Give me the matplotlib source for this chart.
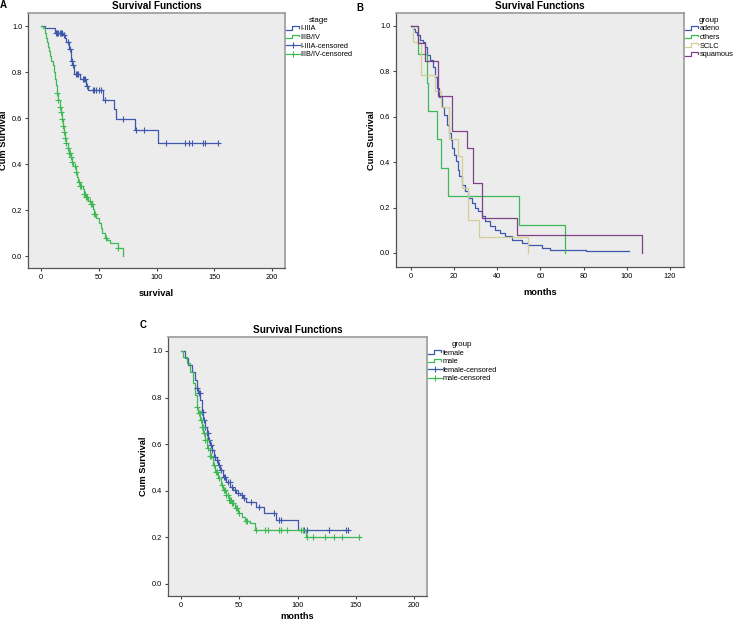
import numpy as np
import matplotlib
matplotlib.use('Agg')
import matplotlib.pyplot as plt
from matplotlib.lines import Line2D
from matplotlib.legend_handler import HandlerBase

plt.rcParams['font.family'] = ['Liberation Sans', 'DejaVu Sans']

# ---- data (time, survival after each event) ----
# A: stage
a_early_t = [3, 12, 19, 21, 22, 24, 26, 27, 28.5, 34, 39, 41, 54, 63, 64.5, 81, 101]
a_early_s = [0.99, 0.97, 0.96, 0.95, 0.93, 0.90, 0.85, 0.83, 0.79, 0.77, 0.74, 0.72,
             0.68, 0.64, 0.595, 0.55, 0.49]
a_early_end = 153
a_early_cens = [13, 14, 15, 16, 17, 18, 20, 23, 25, 26.5, 27.5, 30, 31, 32, 36, 37, 38, 40,
                45, 46, 48, 50, 52, 55, 71, 82, 89, 108, 125, 128, 131, 140, 142, 153]

a_late_t = [2, 3, 4, 5, 6, 7, 8, 9, 10, 11, 12, 13, 14, 15, 16, 17, 18, 19, 20, 21, 22, 23,
            24, 26, 27, 28, 30, 31, 32, 34, 36, 37, 39, 41, 43, 45, 46, 48, 50, 52, 53, 55,
            57, 60, 67, 71]
a_late_s = [0.99, 0.97, 0.95, 0.93, 0.91, 0.89, 0.87, 0.85, 0.83, 0.80, 0.77, 0.745, 0.71,
            0.68, 0.65, 0.625, 0.595, 0.565, 0.54, 0.515, 0.49, 0.47, 0.45, 0.43, 0.41, 0.39,
            0.365, 0.345, 0.32, 0.305, 0.29, 0.27, 0.255, 0.24, 0.225, 0.205, 0.185, 0.165,
            0.145, 0.12, 0.10, 0.08, 0.07, 0.055, 0.035, 0.0]
a_late_end = 71
a_late_cens = [14, 15, 16, 17, 18, 19, 20, 21, 22, 23, 24, 25, 26, 27, 29, 30, 33, 34, 35,
               37, 38, 39, 40, 42, 43, 44, 46, 47, 56, 67]

# B: histology group
b_adeno_t = [1, 2, 3, 4, 5.5, 6.5, 7.3, 8.8, 10.3, 11.1, 11.9, 13, 14.2, 15.4, 16.5, 17.6,
             18.4, 19.2, 20.1, 20.8, 21.6, 22.4, 23.5, 25, 26.6, 28.1, 29.7, 31.2, 32.7,
             34.3, 36.6, 38.9, 41.2, 43.6, 46.6, 51.3, 54.4, 60.5, 64.4, 81]
b_adeno_s = [0.988, 0.974, 0.959, 0.937, 0.93, 0.908, 0.871, 0.849, 0.82, 0.776, 0.725,
             0.688, 0.644, 0.608, 0.564, 0.527, 0.498, 0.461, 0.432, 0.403, 0.366, 0.337,
             0.30, 0.271, 0.242, 0.22, 0.198, 0.183, 0.161, 0.139, 0.117, 0.103, 0.088,
             0.073, 0.059, 0.044, 0.037, 0.022, 0.015, 0.007]
b_adeno_end = 101
b_others_t = [3.1, 7.3, 8, 12.2, 13.9, 17, 50, 71.4]
b_others_s = [0.875, 0.75, 0.625, 0.5, 0.375, 0.25, 0.125, 0.0]
b_sclc_t = [1, 4.6, 11.1, 13.9, 17.8, 21.9, 23.5, 26.4, 31.7, 54]
b_sclc_s = [0.929, 0.786, 0.714, 0.643, 0.5, 0.429, 0.286, 0.143, 0.071, 0.0]
b_squam_t = [3.1, 6.5, 12.4, 18.8, 26.1, 28.8, 33.1, 49.3, 107.2]
b_squam_s = [0.923, 0.846, 0.692, 0.538, 0.462, 0.308, 0.154, 0.077, 0.0]

# C: sex
c_fem_t = [3.4, 6.3, 9.2, 12, 13.4, 14.9, 16.3, 17.7, 19.2, 20.6, 22, 23.4, 24.9, 26.3, 28.3,
           30.6, 32, 33.5, 35.8, 38.6, 42.1, 44.9, 47.2, 50.6, 53.5, 55.8, 64.4, 71.2, 81.5,
           100.1]
c_fem_s = [0.969, 0.94, 0.911, 0.876, 0.84, 0.818, 0.79, 0.74, 0.704, 0.675, 0.647, 0.618,
           0.597, 0.575, 0.546, 0.532, 0.51, 0.489, 0.46, 0.439, 0.418, 0.403, 0.392, 0.382,
           0.368, 0.35, 0.329, 0.303, 0.275, 0.232]
c_fem_end = 143.5
c_fem_cens = [14, 15, 16, 18, 19, 20, 21, 22, 23, 24, 26, 27, 29, 31, 33, 34, 37, 38, 40, 42,
              44, 46, 49, 52, 54, 60, 67, 80, 84, 86, 106, 108, 127, 142, 143]
c_male_t = [2, 4.9, 7.7, 10, 12, 13.4, 14.9, 16.3, 17.7, 19.2, 20.6, 22.6, 24.9, 27.2, 29.5,
            32, 34, 36.3, 38.6, 40.9, 43.5, 46.4, 49.2, 52.1, 54.9, 59.2, 63.5, 107]
c_male_s = [0.976, 0.947, 0.911, 0.861, 0.811, 0.761, 0.732, 0.704, 0.675, 0.647, 0.618,
            0.582, 0.547, 0.511, 0.482, 0.453, 0.425, 0.403, 0.382, 0.361, 0.346, 0.325,
            0.303, 0.286, 0.268, 0.26, 0.232, 0.2]
c_male_end = 153.6
c_male_cens = [14, 15, 16, 17, 18, 19, 20, 21, 22, 23, 25, 26, 28, 30, 31, 33, 35, 37, 38, 39,
               40, 41, 42, 43, 44, 45, 47, 48, 50, 56, 57, 64, 72, 75, 84, 86, 91, 103, 105,
               108, 113, 124, 131, 138, 153]

BLUE = '#3E58AC'
GREEN = '#3DBA55'
BEIGE = '#D3CE97'
PURPLE = '#80418A'


def km_line(ax, t, s, end, color):
    x = np.r_[0, t, end]
    y = np.r_[1.0, s, s[-1]]
    ln, = ax.plot(x, y, drawstyle='steps-post', color=color, lw=0.9)
    return ln


def km_cens(ax, t, s, cens, color):
    t = np.asarray(t)
    s = np.asarray(s)
    idx = np.searchsorted(t, cens, side='right') - 1
    y = np.where(idx >= 0, s[np.clip(idx, 0, None)], 1.0)
    ax.plot(cens, y, ls='none', marker='+', ms=5, mew=0.8, color=color)
    return Line2D([], [], color=color, lw=0.9, marker='|', ms=5, mew=0.8)


class StepIcon(HandlerBase):
    def create_artists(self, legend, orig, xd, yd, w, h, fs, trans):
        xs = -xd + np.array([0, .45, .45, .95, .95]) * w
        ys = -yd + np.array([.15, .15, .85, .85, .5]) * h
        ln = Line2D(xs, ys, color=orig.get_color(), lw=0.9)
        ln.set_transform(trans)
        return [ln]


def style(ax, xt, xlim, ylim, xlabel, xpad=6):
    ax.set_facecolor('#ECECEC')
    ax.set_xlim(*xlim)
    ax.set_ylim(*ylim)
    ax.set_xticks(xt)
    ax.set_yticks([0, 0.2, 0.4, 0.6, 0.8, 1.0])
    ax.set_yticklabels(['0.0', '0.2', '0.4', '0.6', '0.8', '1.0'])
    ax.tick_params(labelsize=5.3, length=2.5, width=0.8, color='#444444', pad=1.5)
    for sp in ['left', 'bottom']:
        ax.spines[sp].set_color('#555555')
        ax.spines[sp].set_linewidth(0.9)
    for sp in ['top', 'right']:
        ax.spines[sp].set_color('#9A9A9A')
        ax.spines[sp].set_linewidth(1.2)
    ax.set_title('Survival Functions', fontsize=7.2, fontweight='bold', pad=3)
    ax.set_xlabel(xlabel, fontsize=6.7, fontweight='bold', labelpad=xpad)
    ax.set_ylabel('Cum Survival', fontsize=6.7, fontweight='bold', labelpad=3)


def legend(ax, handles, labels, title, steps, x):
    hm = {h: StepIcon() for h in steps}
    ax.legend(handles, labels, title=title, loc='upper left', bbox_to_anchor=(x, 0.985),
              frameon=False, fontsize=5.3, title_fontsize=5.8, handlelength=1.9,
              handletextpad=0.1, labelspacing=0.2, borderpad=0, borderaxespad=0,
              numpoints=1, handler_map=hm)


fig = plt.figure(figsize=(7.36, 6.23), dpi=100)
W, H = 736, 623
axA = fig.add_axes([28 / W, 1 - 268 / H, 257 / W, 255 / H])
axB = fig.add_axes([396 / W, 1 - 267 / H, 288 / W, 254 / H])
axC = fig.add_axes([168 / W, 1 - 596 / H, 259 / W, 259 / H])

# A
l1 = km_line(axA, a_early_t, a_early_s, a_early_end, BLUE)
l2 = km_line(axA, a_late_t, a_late_s, a_late_end, GREEN)
c1 = km_cens(axA, a_early_t, a_early_s, a_early_cens, BLUE)
c2 = km_cens(axA, a_late_t, a_late_s, a_late_cens, GREEN)
style(axA, [0, 50, 100, 150, 200], (-11.3, 211.3), (-0.052, 1.057), 'survival')
legend(axA, [l1, l2, c1, c2], ['I-IIIA', 'IIIB/IV', 'I-IIIA-censored', 'IIIB/IV-censored'],
       'stage', [l1, l2], 1.003)

# B
b1 = km_line(axB, b_adeno_t, b_adeno_s, b_adeno_end, BLUE)
b2 = km_line(axB, b_others_t, b_others_s, b_others_t[-1], GREEN)
b3 = km_line(axB, b_sclc_t, b_sclc_s, b_sclc_t[-1], BEIGE)
b4 = km_line(axB, b_squam_t, b_squam_s, b_squam_t[-1], PURPLE)
style(axB, [0, 20, 40, 60, 80, 100, 120], (-6.95, 126.5), (-0.062, 1.057), 'months')
legend(axB, [b1, b2, b3, b4], ['adeno', 'others', 'SCLC', 'squamous'], 'group',
       [b1, b2, b3, b4], 1.003)

# C
f1 = km_line(axC, c_fem_t, c_fem_s, c_fem_end, BLUE)
f2 = km_line(axC, c_male_t, c_male_s, c_male_end, GREEN)
fc1 = km_cens(axC, c_fem_t, c_fem_s, c_fem_cens, BLUE)
fc2 = km_cens(axC, c_male_t, c_male_s, c_male_cens, GREEN)
style(axC, [0, 50, 100, 150, 200], (-11.2, 211.2), (-0.052, 1.06), 'months', xpad=2.5)
legend(axC, [f1, f2, fc1, fc2], ['female', 'male', 'female-censored', 'male-censored'],
       'group', [f1, f2], 1.003)

fig.text(0 / W, 1 - 0 / H, 'A', fontsize=7, fontweight='bold', va='top', ha='left')
fig.text(356 / W, 1 - 3 / H, 'B', fontsize=7, fontweight='bold', va='top', ha='left')
fig.text(140 / W, 1 - 320 / H, 'C', fontsize=7, fontweight='bold', va='top', ha='left')

fig.savefig('out.png', dpi=100)
